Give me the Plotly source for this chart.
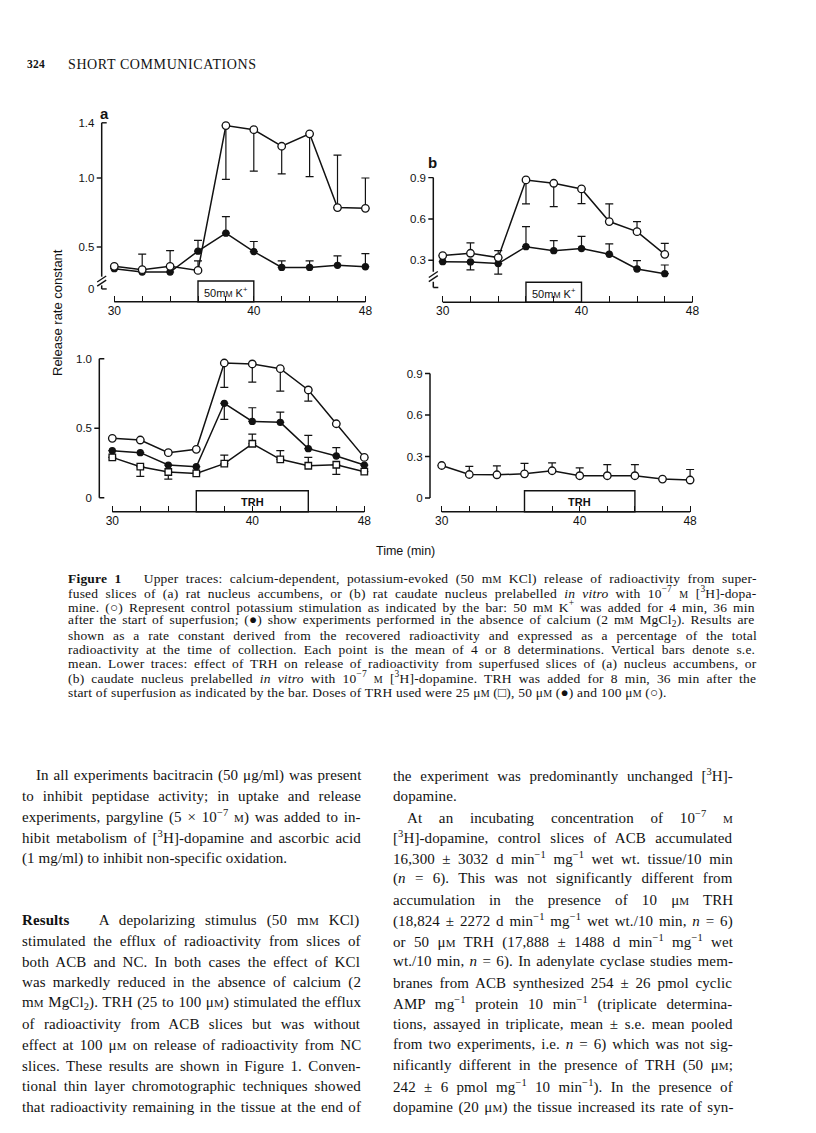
import re
import plotly.graph_objects as go

W, H = 816, 1133          # browser window
OFF = 8                   # default body margin of the html page
FW, FH = W - 2 * OFF, H - 2 * OFF

# ---------------- data ----------------
time_a = [30, 32, 34, 36, 38, 40, 42, 44, 46, 48]
time_b_up = [30, 32, 34, 36, 38, 40, 42, 44, 46]
time_b_low = [30, 32, 34, 36, 38, 40, 42, 44, 46, 48]
x_minor_ticks = [30, 32, 34, 36, 38, 40, 42, 44, 46, 48]
x_major_ticks = [30, 40, 48]
x_ticktext = ["30", "40", "48"]

# upper (a): nucleus accumbens, K+ stimulation
a_up_ctrl = [0.36, 0.336, 0.36, 0.33, 1.38, 1.35, 1.23, 1.32, 0.786, 0.78]
a_up_ctrl_eplus = [0, 0, 0, 0.07, 0, 0, 0, 0, 0.38, 0.22]
a_up_ctrl_eminus = [0, 0, 0, 0, 0.39, 0.30, 0.20, 0.31, 0, 0]
a_up_noca = [0.343, 0.319, 0.319, 0.47, 0.60, 0.467, 0.352, 0.352, 0.367, 0.357]
a_up_noca_eplus = [0, 0.13, 0.155, 0.078, 0.12, 0.073, 0.048, 0.048, 0.069, 0.095]
a_up_noca_eminus = [0, 0, 0, 0, 0, 0, 0, 0, 0, 0]

# upper (b): caudate nucleus, K+ stimulation
b_up_ctrl = [0.334, 0.351, 0.32, 0.883, 0.859, 0.818, 0.581, 0.508, 0.343]
b_up_ctrl_eplus = [0, 0.075, 0.05, 0, 0, 0, 0.128, 0.072, 0.08]
b_up_ctrl_eminus = [0, 0, 0, 0.174, 0.169, 0.107, 0, 0, 0]
b_up_noca = [0.29, 0.288, 0.276, 0.399, 0.37, 0.385, 0.344, 0.237, 0.203]
b_up_noca_eplus = [0, 0, 0, 0.145, 0.073, 0.089, 0.075, 0.061, 0.063]
b_up_noca_eminus = [0, 0.058, 0.076, 0, 0, 0, 0, 0, 0]

# lower (a): TRH doses
a_low_100 = [0.427, 0.415, 0.324, 0.348, 0.969, 0.962, 0.928, 0.775, 0.532, 0.29]
a_low_100_eplus = [0, 0, 0, 0, 0, 0, 0, 0, 0, 0]
a_low_100_eminus = [0, 0, 0, 0, 0.175, 0.13, 0.161, 0.08, 0, 0]
a_low_50 = [0.338, 0.324, 0.235, 0.223, 0.679, 0.549, 0.542, 0.353, 0.30, 0.235]
a_low_50_eplus = [0, 0, 0, 0, 0, 0.098, 0.074, 0.095, 0.06, 0]
a_low_50_eminus = [0, 0, 0, 0, 0.115, 0, 0, 0, 0, 0]
a_low_25 = [0.29, 0.223, 0.185, 0.175, 0.245, 0.388, 0.276, 0.23, 0.237, 0.187]
a_low_25_eplus = [0, 0, 0, 0, 0.062, 0.07, 0.062, 0.06, 0, 0]
a_low_25_eminus = [0, 0.07, 0.051, 0, 0, 0, 0, 0, 0.069, 0]

# lower (b): TRH 100 uM
b_low_100 = [0.235, 0.17, 0.168, 0.175, 0.197, 0.161, 0.161, 0.161, 0.137, 0.13]
b_low_100_eplus = [0, 0.058, 0.065, 0.075, 0.057, 0.057, 0.081, 0.081, 0, 0.076]
b_low_100_eminus = [0] * 10

# y tick values / labels (upper panels have broken axes)
a_up_ytv = [0.196, 0.5, 1.0, 1.4]
a_up_ytt = ["0", "0.5", "1.0", "1.4"]
b_up_ytv = [0.3, 0.6, 0.9]
b_up_ytt = ["0.3", "0.6", "0.9"]
a_low_ytv = [0, 0.5, 1.0]
a_low_ytt = ["0", "0.5", "1.0"]
b_low_ytv = [0, 0.3, 0.6, 0.9]
b_low_ytt = ["0", "0.3", "0.6", "0.9"]

k_bar = [36, 40]
trh_bar = [36, 44]

# ---------------- geometry helpers ----------------
SANS = "Liberation Sans, Arial, sans-serif"
SERIF = "Liberation Serif, Times New Roman, serif"
INK = "#121212"


def px(x):
    return (x - OFF) / FW


def py(y):
    return 1 - (y - OFF) / FH


def xdom(px30, ppm, r0, r1):
    return [px(px30 + (r0 - 30) * ppm), px(px30 + (r1 - 30) * ppm)]


def ydom(pv, v0, ppu, r0, r1):
    pb = pv + (v0 - r0) * ppu
    pt = pv - (r1 - v0) * ppu
    return [py(pb), py(pt)]


panels = [
    dict(id="", px30=114.3, ppm=13.95, pv=247.0, v0=0.5, ppu=138.0, yr=[0.0, 1.5],
         xpos=301.7, ypos=101.7, ytv=a_up_ytv, ytt=a_up_ytt),
    dict(id="2", px30=442.7, ppm=13.88, pv=260.3, v0=0.3, ppu=137.8, yr=[0.0, 1.05],
         xpos=302.3, ypos=433.3, ytv=b_up_ytv, ytt=b_up_ytt),
    dict(id="3", px30=112.3, ppm=14.0, pv=497.7, v0=0.0, ppu=139.0, yr=[-0.12, 1.1],
         xpos=511.7, ypos=99.3, ytv=a_low_ytv, ytt=a_low_ytt),
    dict(id="4", px30=441.7, ppm=13.8, pv=498.0, v0=0.0, ppu=138.3, yr=[-0.12, 1.0],
         xpos=511.7, ypos=430.0, ytv=b_low_ytv, ytt=b_low_ytt),
]

fig = go.Figure()
layout = dict(width=FW, height=FH, margin=dict(l=0, r=0, t=0, b=0),
              paper_bgcolor="white", plot_bgcolor="rgba(0,0,0,0)", showlegend=False)

shapes = []
annotations = []

for p in panels:
    xr = [29.0, 49.0]
    xa = dict(domain=xdom(p["px30"], p["ppm"], *xr), range=xr, anchor="free",
              position=py(p["xpos"]), showgrid=False, zeroline=False, showline=False,
              ticks="inside", ticklen=6, tickwidth=1.4, tickcolor=INK,
              tickmode="array", tickvals=x_major_ticks, ticktext=x_ticktext,
              minor=dict(tickmode="array", tickvals=x_minor_ticks, ticks="inside",
                         ticklen=6, tickwidth=1.4, tickcolor=INK, showgrid=False),
              tickfont=dict(family=SANS, size=12, color=INK))
    ya = dict(domain=ydom(p["pv"], p["v0"], p["ppu"], *p["yr"]), range=p["yr"],
              anchor="free", position=px(p["ypos"]), showgrid=False, zeroline=False,
              showline=False, ticks="outside", ticklen=5, tickcolor="rgba(0,0,0,0)",
              tickvals=p["ytv"], ticktext=p["ytt"],
              tickfont=dict(family=SANS, size=11.5, color=INK))
    layout["xaxis" + p["id"]] = xa
    layout["yaxis" + p["id"]] = ya
    p["xref"] = "x" + p["id"]
    p["yref"] = "y" + p["id"]
    shapes.append(dict(type="line", xref=p["xref"], yref="paper",
                       x0=x_minor_ticks[0], x1=x_minor_ticks[-1],
                       y0=py(p["xpos"]), y1=py(p["xpos"]), line=dict(color=INK, width=1.5)))


def add_series(p, xs, ys, ep, em, symbol, fill, size):
    fig.add_trace(go.Scatter(
        x=xs, y=ys, xaxis=p["xref"], yaxis=p["yref"], mode="lines+markers",
        line=dict(color=INK, width=1.5),
        marker=dict(symbol=symbol, size=size, color=fill, line=dict(color=INK, width=1.3)),
        error_y=dict(type="data", symmetric=False, array=ep, arrayminus=em,
                     color=INK, thickness=1.2, width=4),
        cliponaxis=False, hoverinfo="skip"))


pa, pb, pc, pd = panels
add_series(pa, time_a, a_up_noca, a_up_noca_eplus, a_up_noca_eminus, "circle", INK, 6)
add_series(pa, time_a, a_up_ctrl, a_up_ctrl_eplus, a_up_ctrl_eminus, "circle", "white", 7.5)
add_series(pb, time_b_up, b_up_noca, b_up_noca_eplus, b_up_noca_eminus, "circle", INK, 6)
add_series(pb, time_b_up, b_up_ctrl, b_up_ctrl_eplus, b_up_ctrl_eminus, "circle", "white", 7.5)
add_series(pc, time_a, a_low_25, a_low_25_eplus, a_low_25_eminus, "square", "white", 6.5)
add_series(pc, time_a, a_low_50, a_low_50_eplus, a_low_50_eminus, "circle", INK, 6)
add_series(pc, time_a, a_low_100, a_low_100_eplus, a_low_100_eminus, "circle", "white", 7.5)
add_series(pd, time_b_low, b_low_100, b_low_100_eplus, b_low_100_eminus, "circle", "white", 7.5)


# ---------- y axis lines, ticks, breaks ----------
def yline(p, v0, v1):
    x = px(p["ypos"])
    shapes.append(dict(type="line", xref="paper", yref=p["yref"], x0=x, x1=x, y0=v0, y1=v1,
                       line=dict(color=INK, width=1.5)))


def ytick(p, v, side):
    x = px(p["ypos"])
    dx = 5 / FW
    x1 = x - dx if side == "left" else x + dx
    shapes.append(dict(type="line", xref="paper", yref=p["yref"], x0=x, x1=x1, y0=v, y1=v,
                       line=dict(color=INK, width=1.4)))


def slash(p, vc):
    x = px(p["ypos"])
    dv = 3.0 / p["ppu"]
    shapes.append(dict(type="line", xref="paper", yref=p["yref"], x0=x - 4.5 / FW,
                       x1=x + 4.5 / FW, y0=vc - dv, y1=vc + dv, line=dict(color=INK, width=1.4)))


yline(pa, 0.285, 1.4)
ytick(pa, 1.4, "right")
ytick(pa, 1.0, "left")
ytick(pa, 0.5, "left")
slash(pa, 0.268)
slash(pa, 0.238)
yline(pa, 0.196, 0.222)
ytick(pa, 0.196, "right")

yline(pb, 0.217, 0.9)
ytick(pb, 0.9, "left")
ytick(pb, 0.6, "left")
ytick(pb, 0.3, "left")
slash(pb, 0.197)
slash(pb, 0.167)
yline(pb, 0.103, 0.145)
ytick(pb, 0.103, "right")

yline(pc, 0.0, 1.0)
ytick(pc, 1.0, "right")
ytick(pc, 0.5, "left")
ytick(pc, 0.0, "right")

yline(pd, 0.0, 0.9)
ytick(pd, 0.9, "left")
ytick(pd, 0.6, "left")
ytick(pd, 0.3, "left")
ytick(pd, 0.0, "left")


def stim_box(p, xs, top_px, label, fsize):
    shapes.append(dict(type="rect", xref=p["xref"], yref="paper", x0=xs[0], x1=xs[1],
                       y0=py(p["xpos"]), y1=py(top_px), line=dict(color=INK, width=1.4),
                       fillcolor="rgba(0,0,0,0)"))
    annotations.append(dict(xref=p["xref"], yref="paper", x=(xs[0] + xs[1]) / 2,
                            y=py((top_px + p["xpos"]) / 2 + 0.5), text=label, showarrow=False,
                            font=dict(family=SANS, size=fsize, color=INK),
                            xanchor="center", yanchor="middle"))


KLAB = "50m<span style='font-size:8.5px'>M</span> K<sup>+</sup>"
stim_box(pa, k_bar, 281.0, KLAB, 11)
stim_box(pb, k_bar, 282.3, KLAB, 11)
stim_box(pc, trh_bar, 490.7, "<b>TRH</b>", 11)
stim_box(pd, trh_bar, 490.7, "<b>TRH</b>", 11)


def text(x, y, s, size, family=SERIF, anchor="left", angle=0):
    annotations.append(dict(xref="paper", yref="paper", x=px(x), y=py(y), text=s,
                            showarrow=False, xanchor=anchor, yanchor="middle", textangle=angle,
                            borderpad=0, borderwidth=0,
                            font=dict(family=family, size=size, color=INK)))


# --------- Times-compatible advance widths (per 1000 em) for justification ---------
TW = {' ': 250, '\u00a0': 250, 'a': 444, 'b': 500, 'c': 444, 'd': 500, 'e': 444, 'f': 333,
      'g': 500, 'h': 500, 'i': 278, 'j': 278, 'k': 500, 'l': 278, 'm': 778, 'n': 500,
      'o': 500, 'p': 500, 'q': 500, 'r': 333, 's': 389, 't': 278, 'u': 500, 'v': 500,
      'w': 722, 'x': 500, 'y': 500, 'z': 444, 'A': 722, 'B': 667, 'C': 667, 'D': 722,
      'E': 611, 'F': 556, 'G': 722, 'H': 722, 'I': 333, 'J': 389, 'K': 722, 'L': 611,
      'M': 889, 'N': 722, 'O': 722, 'P': 556, 'Q': 722, 'R': 667, 'S': 556, 'T': 611,
      'U': 722, 'V': 722, 'W': 944, 'X': 722, 'Y': 722, 'Z': 611, '.': 250, ',': 250,
      ';': 278, ':': 278, '(': 333, ')': 333, '[': 333, ']': 333, '-': 333, '/': 278,
      '=': 564, '+': 564, '±': 564, '×': 564, '−': 564, 'μ': 500, '○': 780, '●': 780,
      '□': 780, "'": 180}


def natural_width(s, size, ls):
    stack = [size]
    bold = False
    tot = 0.0
    nsp = 0
    for tok in re.split(r'(<[^>]+>)', s):
        if not tok:
            continue
        if tok.startswith('<'):
            t = tok.lower()
            if t.startswith('<sup') or t.startswith('<sub'):
                stack.append(stack[-1] * 0.7)
            elif t.startswith('</sup') or t.startswith('</sub') or t.startswith('</span'):
                stack.pop()
            elif t.startswith('<span'):
                m = re.search(r'font-size:\s*([\d.]+)px', t)
                stack.append(float(m.group(1)) if m else stack[-1])
            elif t == '<b>':
                bold = True
            elif t == '</b>':
                bold = False
            continue
        for ch in tok:
            w = TW.get(ch, 500) / 1000 * stack[-1]
            if bold:
                w *= 1.06
            tot += w + ls
            if ch in (' ', '\u00a0'):
                nsp += 1
    return tot, nsp


def para_line(x0, x1, y, s, size, ls, justify=True):
    ws = 0.0
    if justify:
        w, nsp = natural_width(s, size, ls)
        if nsp:
            ws = max(-1.0, (x1 - x0 - w) / nsp)
    styled = "<span style='letter-spacing:%.2fpx;word-spacing:%.2fpx'>%s</span>" % (ls, ws, s)
    text(x0, y, styled, size)


# panel letters, axis titles
text(100, 113, "<b>a</b>", 15, SANS)
text(428, 163, "<b>b</b>", 15, SANS)
text(58, 313, "Release rate constant", 13, SANS, "center", -90)
text(405, 551, "Time (min)", 12.5, SANS, "center")

# header
text(27, 64, "<span style='letter-spacing:0.3px'><b>324</b></span>", 11.5)
text(68, 64, "<span style='letter-spacing:0.6px'>SHORT COMMUNICATIONS</span>", 14)

# caption
SC = "<span style='font-size:10px'>M</span>"
NB = "\u00a0\u00a0"
caption = [
    "<b>Figure 1</b>" + NB + " Upper traces: calcium-dependent, potassium-evoked (50 m" + SC + " KCl) release of radioactivity from super-",
    "fused slices of (a) rat nucleus accumbens, or (b) rat caudate nucleus prelabelled <i>in vitro</i> with 10<sup>−7</sup> " + SC + " [<sup>3</sup>H]-dopa-",
    "mine. (○) Represent control potassium stimulation as indicated by the bar: 50 m" + SC + " K<sup>+</sup> was added for 4 min, 36 min",
    "after the start of superfusion; (●) show experiments performed in the absence of calcium (2 m" + SC + " MgCl<sub>2</sub>). Results are",
    "shown as a rate constant derived from the recovered radioactivity and expressed as a percentage of the total",
    "radioactivity at the time of collection. Each point is the mean of 4 or 8 determinations. Vertical bars denote s.e.",
    "mean. Lower traces: effect of TRH on release of radioactivity from superfused slices of (a) nucleus accumbens, or",
    "(b) caudate nucleus prelabelled <i>in vitro</i> with 10<sup>−7</sup> " + SC + " [<sup>3</sup>H]-dopamine. TRH was added for 8 min, 36 min after the",
    "start of superfusion as indicated by the bar. Doses of TRH used were 25 μ" + SC + " (□), 50 μ" + SC + " (●) and 100 μ" + SC + " (○).",
]
for i, line in enumerate(caption):
    para_line(68, 757, 578 + i * 14.25, line, 13.5, 0.2, justify=(i < len(caption) - 1))

# body text
SB = "<span style='font-size:11px'>M</span>"
L0, L1, R0, R1 = 22, 361, 393, 733
left_col = [
    (1, L0 + 14, True, "In all experiments bacitracin (50 μg/ml) was present"),
    (2, L0, True, "to inhibit peptidase activity; in uptake and release"),
    (3, L0, True, "experiments, pargyline (5 × 10<sup>−7</sup> " + SB + ") was added to in-"),
    (4, L0, True, "hibit metabolism of [<sup>3</sup>H]-dopamine and ascorbic acid"),
    (5, L0, False, "(1 mg/ml) to inhibit non-specific oxidation."),
    (8, L0, True, "<b>Results</b>" + NB + " A depolarizing stimulus (50 m" + SB + " KCl)"),
    (9, L0, True, "stimulated the efflux of radioactivity from slices of"),
    (10, L0, True, "both ACB and NC. In both cases the effect of KCl"),
    (11, L0, True, "was markedly reduced in the absence of calcium (2"),
    (12, L0, True, "m" + SB + " MgCl<sub>2</sub>). TRH (25 to 100 μ" + SB + ") stimulated the efflux"),
    (13, L0, True, "of radioactivity from ACB slices but was without"),
    (14, L0, True, "effect at 100 μ" + SB + " on release of radioactivity from NC"),
    (15, L0, True, "slices. These results are shown in Figure 1. Conven-"),
    (16, L0, True, "tional thin layer chromotographic techniques showed"),
    (17, L0, True, "that radioactivity remaining in the tissue at the end of"),
]
right_col = [
    (1, R0, True, "the experiment was predominantly unchanged [<sup>3</sup>H]-"),
    (2, R0, False, "dopamine."),
    (3, R0 + 14, True, "At an incubating concentration of 10<sup>−7</sup> " + SB),
    (4, R0, True, "[<sup>3</sup>H]-dopamine, control slices of ACB accumulated"),
    (5, R0, True, "16,300 ± 3032 d min<sup>−1</sup> mg<sup>−1</sup> wet wt. tissue/10 min"),
    (6, R0, True, "(<i>n</i> = 6). This was not significantly different from"),
    (7, R0, True, "accumulation in the presence of 10 μ" + SB + " TRH"),
    (8, R0, True, "(18,824 ± 2272 d min<sup>−1</sup> mg<sup>−1</sup> wet wt./10 min, <i>n</i> = 6)"),
    (9, R0, True, "or 50 μ" + SB + " TRH (17,888 ± 1488 d min<sup>−1</sup> mg<sup>−1</sup> wet"),
    (10, R0, True, "wt./10 min, <i>n</i> = 6). In adenylate cyclase studies mem-"),
    (11, R0, True, "branes from ACB synthesized 254 ± 26 pmol cyclic"),
    (12, R0, True, "AMP mg<sup>−1</sup> protein 10 min<sup>−1</sup> (triplicate determina-"),
    (13, R0, True, "tions, assayed in triplicate, mean ± s.e. mean pooled"),
    (14, R0, True, "from two experiments, i.e. <i>n</i> = 6) which was not sig-"),
    (15, R0, True, "nificantly different in the presence of TRH (50 μ" + SB + ";"),
    (16, R0, True, "242 ± 6 pmol mg<sup>−1</sup> 10 min<sup>−1</sup>). In the presence of"),
    (17, R0, True, "dopamine (20 μ" + SB + ") the tissue increased its rate of syn-"),
]
for n, x, just, line in left_col:
    para_line(x, L1, 775 + (n - 1) * 20.75, line, 15, 0.1, just)
for n, x, just, line in right_col:
    para_line(x, R1, 775 + (n - 1) * 20.75, line, 15, 0.1, just)

layout["shapes"] = shapes
layout["annotations"] = annotations
fig.update_layout(**layout)
fig.write_html("out.html")
